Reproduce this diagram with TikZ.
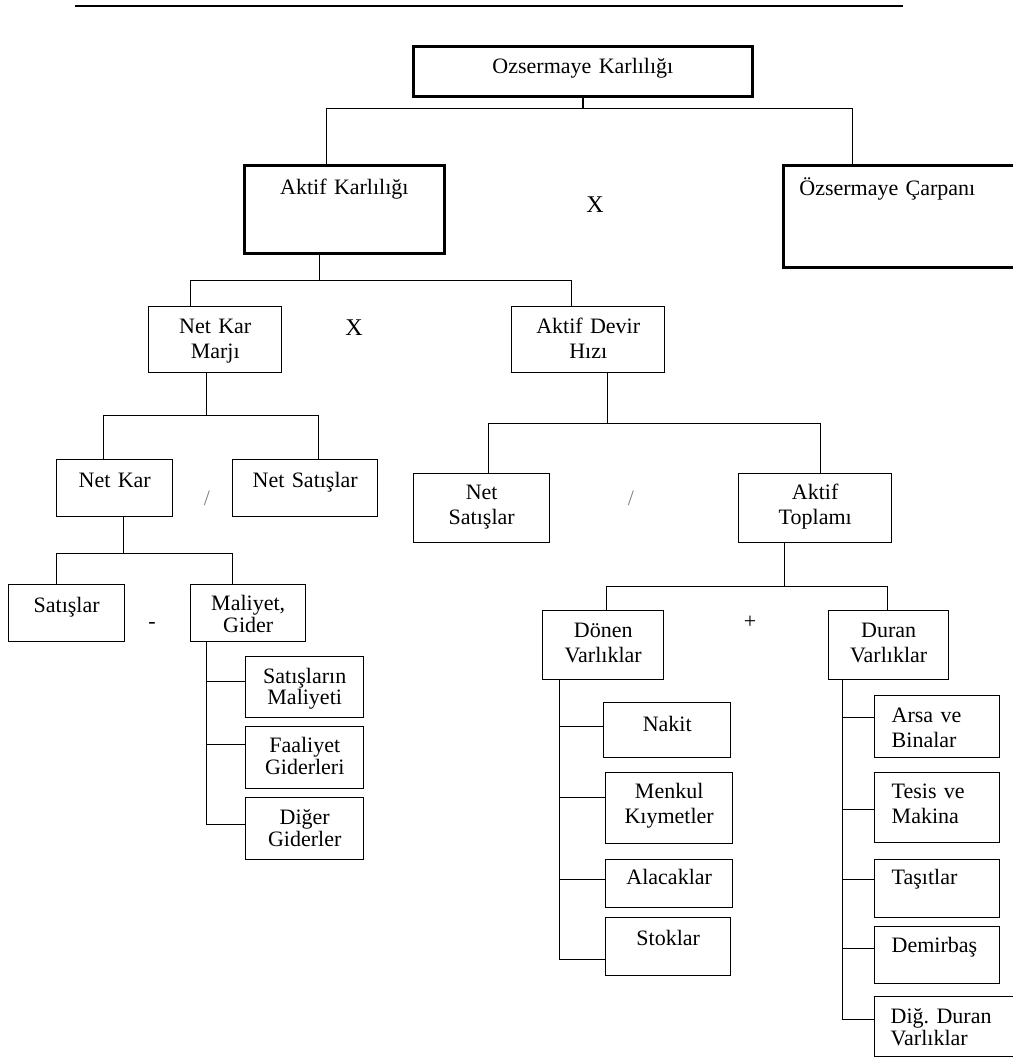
\documentclass[tikz,border=0pt]{standalone}
\usepackage{fontspec}
\setmainfont{Liberation Serif}
\usepackage{tikz}
\frenchspacing

\begin{document}
\begin{tikzpicture}[x=1pt,y=-1pt,every node/.style={font=\fontsize{22}{25}\selectfont},kutu/.style n args={3}{draw,anchor=north west,inner sep=0pt,align=center,line width=1.4pt,text width=#1pt,text height=#2pt,text depth=#3pt},sol/.style={align=left,inner xsep=16pt},kalin/.style={line width=2.8pt},sik/.style={font=\fontsize{22}{22}\selectfont},hat/.style={line width=1.3pt},op/.style={inner sep=0pt}]
	
	\useasboundingbox (0,0) rectangle (1012,1059);
	\draw[line width=2.5pt] (75,6) -- (903,6);
	
	\node[kutu={339}{27}{23},kalin] (ozk) at (412,45) {Ozsermaye Karlılığı};
	\node[kutu={200}{29}{59},kalin] (akk) at (243,164) {Aktif Karlılığı};
	\node[kutu={208}{30}{72},sol,kalin] (ozc) at (782,164) {Özsermaye Çarpanı};
	\node[kutu={133}{27}{39}] (nkm) at (148,306) {Net Kar\\Marjı};
	\node[kutu={153}{27}{39}] (adh) at (511,306) {Aktif Devir\\Hızı};
	\node[kutu={116}{28}{29}] (nk) at (56,459) {Net Kar};
	\node[kutu={145}{28}{29}] (ns1) at (232,459) {Net Satışlar};
	\node[kutu={136}{26}{43}] (ns2) at (413,473) {Net\\Satışlar};
	\node[kutu={153}{26}{43}] (atp) at (738,473) {Aktif\\Toplamı};
	\node[kutu={116}{28}{29}] (sat) at (8,584) {Satışlar};
	\node[kutu={115}{26}{31},sik] (mal) at (190,584) {Maliyet,\\Gider};
	\node[kutu={118}{27}{34},font=\fontsize{22}{21}\selectfont] (sm) at (245,656) {Satışların\\Maliyeti};
	\node[kutu={118}{26}{36},sik] (fg) at (245,726) {Faaliyet\\Giderleri};
	\node[kutu={118}{27}{35},sik] (dg) at (245,797) {Diğer\\Giderler};
	\node[kutu={121}{27}{42}] (dv) at (542,610) {Dönen\\Varlıklar};
	\node[kutu={120}{27}{42}] (duv) at (828,610) {Duran\\Varlıklar};
	\node[kutu={127}{29}{26}] (nak) at (603,702) {Nakit};
	\node[kutu={127}{26}{45}] (mk) at (605,772) {Menkul\\Kıymetler};
	\node[kutu={127}{25}{23}] (ala) at (605,859) {Alacaklar};
	\node[kutu={125}{28}{30}] (sto) at (605,917) {Stoklar};
	\node[kutu={91}{27}{35},sol,inner xsep=17pt] (arsa) at (874,695) {Arsa ve\\Binalar};
	\node[kutu={91}{26}{44},sol,inner xsep=17pt] (tes) at (874,772) {Tesis ve\\Makina};
	\node[kutu={91}{25}{33},sol,inner xsep=17pt] (tas) at (874,859) {Taşıtlar};
	\node[kutu={91}{26}{31},sol,inner xsep=17pt] (dem) at (874,926) {Demirbaş};
	\node[kutu={118}{27}{33},sol,sik] (ddv) at (874,996) {Diğ.\ Duran\\Varlıklar};
	
	\node[op,font=\fontsize{24}{24}\selectfont] (x1) at (595,205) {X};
	\node[op,font=\fontsize{24}{24}\selectfont] (x2) at (354,328) {X};
	\node[op,text=gray] (b1) at (207,498) {/};
	\node[op,text=gray] (b2) at (631,498) {/};
	\node[op] (e1) at (152,625) {-};
	\node[op] (a1) at (750,622) {+};
	
	\draw[hat] (ozk.south) -- ++(0,11) coordinate (j1) -| ([xshift=-18pt]akk.north);
	\draw[hat] (j1) -| ([xshift=-51pt]ozc.north);
	\draw[hat] ([xshift=-25pt]akk.south) -- ++(0,26) coordinate (j2) -| ([xshift=-24.5pt]nkm.north);
	\draw[hat] (j2) -| ([xshift=-16.5pt]adh.north);
	\draw[hat] ([xshift=-8.5pt]nkm.south) -- ++(0,42) coordinate (j3) -| ([xshift=-11pt]nk.north);
	\draw[hat] (j3) -| ([xshift=13.5pt]ns1.north);
	\draw[hat] ([xshift=19.5pt]adh.south) -- ++(0,50) coordinate (j4) -| ([xshift=7pt]ns2.north);
	\draw[hat] (j4) -| ([xshift=5.5pt]atp.north);
	\draw[hat] ([xshift=9pt]nk.south) -- ++(0,36) coordinate (j5) -| ([xshift=-10pt]sat.north);
	\draw[hat] (j5) -| ([xshift=-15.5pt]mal.north);
	\draw[hat] ([xshift=-30.5pt]atp.south) -- ++(0,43) coordinate (j6) -| ([xshift=3.5pt]dv.north);
	\draw[hat] (j6) -| ([xshift=-1pt]duv.north);
	
	\foreach \k/\d in {sm/5.5,fg/13,dg/4}
		\draw[hat] ([xshift=-41.5pt]mal.south) |- ([yshift=\d pt]\k.west);
	\foreach \k/\d in {nak/3.5,mk/10.5,ala/4,sto/-13}
		\draw[hat] ([xshift=-43.5pt]dv.south) |- ([yshift=\d pt]\k.west);
	\foreach \k/\d in {arsa/9,tes/-2,tas/9,dem/6.5,ddv/7}
		\draw[hat] ([xshift=-46pt]duv.south) |- ([yshift=\d pt]\k.west);
	
\end{tikzpicture}
\end{document}
